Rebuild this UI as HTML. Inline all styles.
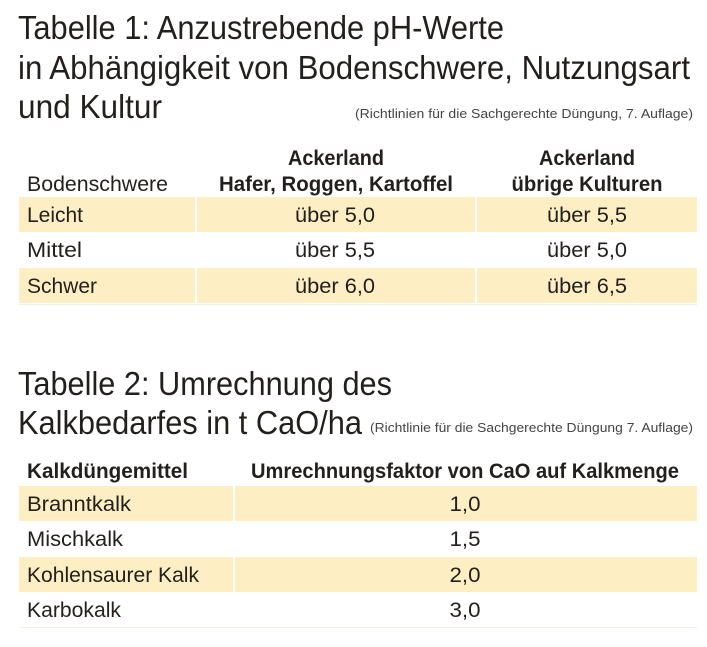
<!DOCTYPE html>
<html><head><meta charset="utf-8"><style>
html,body{margin:0;padding:0;background:#fff;}
svg{display:block;}
text{font-family:"Liberation Sans Narrow","Liberation Sans",sans-serif;fill:#231f1c;}
.t{font-size:33px;}
.c{font-size:13px;fill:#444;}
.r{font-size:21px;}
.h{font-size:21px;font-weight:bold;}
</style></head><body>
<svg width="707" height="647" viewBox="0 0 707 647" xmlns="http://www.w3.org/2000/svg">
<text class="t" x="18" y="39" textLength="486" lengthAdjust="spacingAndGlyphs">Tabelle 1: Anzustrebende pH-Werte</text>
<text class="t" x="18" y="79" textLength="672" lengthAdjust="spacingAndGlyphs">in Abhängigkeit von Bodenschwere, Nutzungsart</text>
<text class="t" x="18" y="118" textLength="144" lengthAdjust="spacingAndGlyphs">und Kultur</text>
<text class="c" x="355" y="118" textLength="338" lengthAdjust="spacingAndGlyphs">(Richtlinien für die Sachgerechte Düngung, 7. Auflage)</text>

<text class="h" x="336" y="165" text-anchor="middle" textLength="96" lengthAdjust="spacingAndGlyphs">Ackerland</text>
<text class="h" x="336" y="191" text-anchor="middle" textLength="234" lengthAdjust="spacingAndGlyphs">Hafer, Roggen, Kartoffel</text>
<text class="h" x="587" y="165" text-anchor="middle" textLength="96" lengthAdjust="spacingAndGlyphs">Ackerland</text>
<text class="h" x="587" y="191" text-anchor="middle" textLength="151" lengthAdjust="spacingAndGlyphs">übrige Kulturen</text>
<text class="r" x="27" y="191" textLength="141" lengthAdjust="spacingAndGlyphs">Bodenschwere</text>

<rect x="19" y="197" width="678" height="35" fill="#fdeec4"/>
<rect x="19" y="268" width="678" height="35" fill="#fdeec4"/>
<rect x="195" y="197" width="2" height="106" fill="#fff"/>
<rect x="475" y="197" width="2" height="106" fill="#fff"/>
<rect x="19" y="304" width="678" height="1" fill="#f3efe6"/>
<text class="r" x="27" y="222" textLength="56" lengthAdjust="spacingAndGlyphs">Leicht</text>
<text class="r" x="335" y="222" text-anchor="middle" textLength="80" lengthAdjust="spacingAndGlyphs">über 5,0</text>
<text class="r" x="587" y="222" text-anchor="middle" textLength="80" lengthAdjust="spacingAndGlyphs">über 5,5</text>
<text class="r" x="27" y="257" textLength="55" lengthAdjust="spacingAndGlyphs">Mittel</text>
<text class="r" x="335" y="257" text-anchor="middle" textLength="80" lengthAdjust="spacingAndGlyphs">über 5,5</text>
<text class="r" x="587" y="257" text-anchor="middle" textLength="80" lengthAdjust="spacingAndGlyphs">über 5,0</text>
<text class="r" x="27" y="293" textLength="70" lengthAdjust="spacingAndGlyphs">Schwer</text>
<text class="r" x="335" y="293" text-anchor="middle" textLength="80" lengthAdjust="spacingAndGlyphs">über 6,0</text>
<text class="r" x="587" y="293" text-anchor="middle" textLength="80" lengthAdjust="spacingAndGlyphs">über 6,5</text>

<text class="t" x="18" y="395" textLength="374" lengthAdjust="spacingAndGlyphs">Tabelle 2: Umrechnung des</text>
<text class="t" x="18" y="434" textLength="344" lengthAdjust="spacingAndGlyphs">Kalkbedarfes in t CaO/ha</text>
<text class="c" x="370" y="432" textLength="323" lengthAdjust="spacingAndGlyphs">(Richtlinie für die Sachgerechte Düngung 7. Auflage)</text>

<text class="h" x="27" y="478" textLength="161" lengthAdjust="spacingAndGlyphs">Kalkdüngemittel</text>
<text class="h" x="251" y="478" textLength="428" lengthAdjust="spacingAndGlyphs">Umrechnungsfaktor von CaO auf Kalkmenge</text>
<rect x="19" y="486" width="678" height="35" fill="#fdeec4"/>
<rect x="19" y="557" width="678" height="35" fill="#fdeec4"/>
<rect x="233" y="486" width="2" height="106" fill="#fff"/>
<rect x="19" y="627" width="678" height="1" fill="#f3efe6"/>
<text class="r" x="27" y="511" textLength="104" lengthAdjust="spacingAndGlyphs">Branntkalk</text>
<text class="r" x="465" y="511" text-anchor="middle" textLength="31" lengthAdjust="spacingAndGlyphs">1,0</text>
<text class="r" x="27" y="546" textLength="96" lengthAdjust="spacingAndGlyphs">Mischkalk</text>
<text class="r" x="465" y="546" text-anchor="middle" textLength="31" lengthAdjust="spacingAndGlyphs">1,5</text>
<text class="r" x="27" y="582" textLength="172" lengthAdjust="spacingAndGlyphs">Kohlensaurer Kalk</text>
<text class="r" x="465" y="582" text-anchor="middle" textLength="31" lengthAdjust="spacingAndGlyphs">2,0</text>
<text class="r" x="27" y="617" textLength="94" lengthAdjust="spacingAndGlyphs">Karbokalk</text>
<text class="r" x="465" y="617" text-anchor="middle" textLength="31" lengthAdjust="spacingAndGlyphs">3,0</text>
</svg>
</body></html>
